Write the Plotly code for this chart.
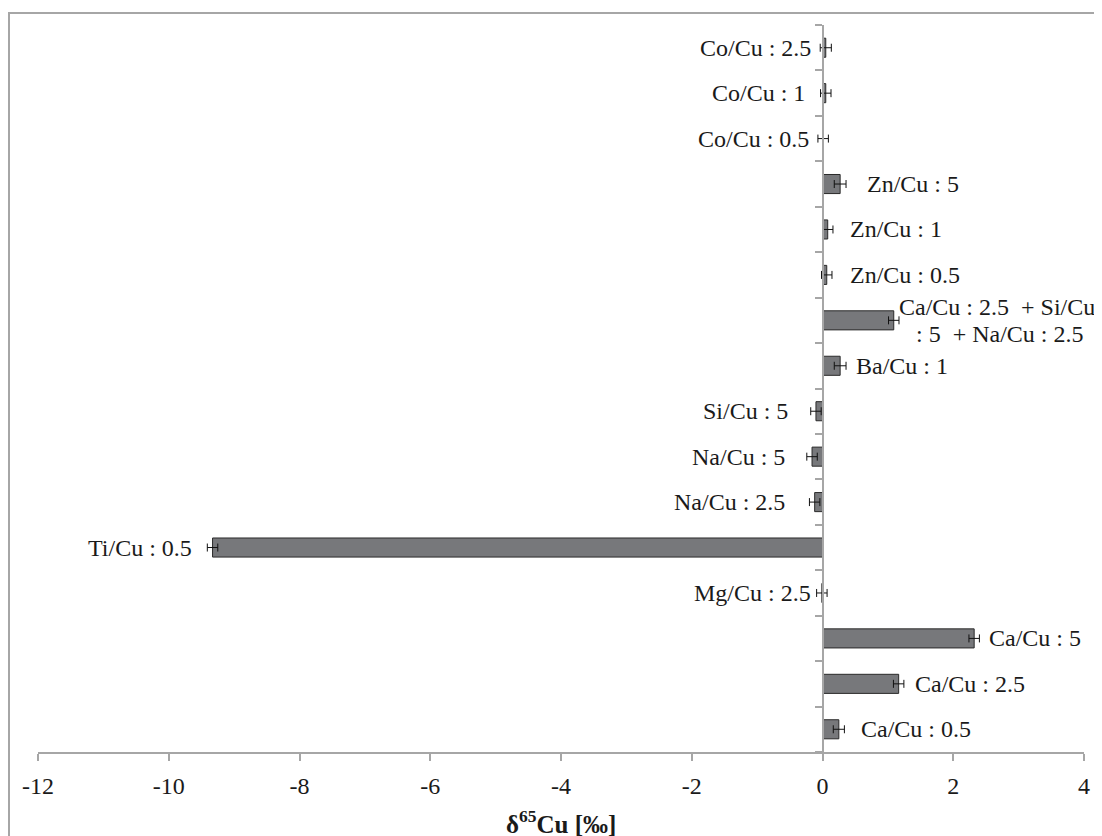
import plotly.graph_objects as go

# ---- data (bottom -> top) ----
labels = ["Ca/Cu : 0.5", "Ca/Cu : 2.5", "Ca/Cu : 5", "Mg/Cu : 2.5", "Ti/Cu : 0.5",
          "Na/Cu : 2.5", "Na/Cu : 5", "Si/Cu : 5", "Ba/Cu : 1",
          "Ca/Cu : 2.5  + Si/Cu<br> : 5  + Na/Cu : 2.5",
          "Zn/Cu : 0.5", "Zn/Cu : 1", "Zn/Cu : 5", "Co/Cu : 0.5", "Co/Cu : 1", "Co/Cu : 2.5"]
delta65cu = [0.25, 1.165, 2.32, -0.01, -9.33, -0.12, -0.16, -0.10, 0.27, 1.09,
             0.065, 0.08, 0.27, 0.01, 0.05, 0.05]
errors = [0.085, 0.08, 0.08, 0.08, 0.08, 0.08, 0.08, 0.08, 0.09, 0.08,
          0.08, 0.08, 0.09, 0.08, 0.08, 0.085]
x_tickvals = [-12, -10, -8, -6, -4, -2, 0, 2, 4]
x_ticktext = ["-12", "-10", "-8", "-6", "-4", "-2", "0", "2", "4"]

# ---- label placement (layout, not data) ----
label_side = [1, 1, 1, -1, -1, -1, -1, -1, 1, 1, 1, 1, 1, -1, -1, -1]
label_gap = [15, 9, 8, 4, 13, 22, 20, 21, 8, 0, 16, 15, 19, 12, 16, 10]

FONT = "Liberation Serif, Times New Roman, serif"
FS = 24
TXT = "#1a1a1a"
OFF = 8                      # browser body margin
W, H = 1102 - OFF, 836 - OFF
ML, MR, MT, MB = 38 - OFF, 18, 25 - OFF, 84
PW, PH = W - ML - MR, H - MT - MB
XMIN, XMAX = -12, 4

cats = [l.replace("<br>", " ") for l in labels]

fig = go.Figure()
fig.add_trace(go.Bar(
    y=cats, x=delta65cu, orientation="h",
    marker=dict(color="#77787b", line=dict(color="#2a2a2a", width=1)),
    error_x=dict(type="data", array=errors, color="#111111", thickness=1, width=4),
    showlegend=False, hoverinfo="skip",
))

annotations = []
LINE_H = 26.5
for c, lab, v, e, s, g in zip(cats, labels, delta65cu, errors, label_side, label_gap):
    if s > 0:
        ax = v + e if v > 0 else 0
    else:
        ax = v - e if v < 0 else 0
    lines = lab.split("<br>")
    if len(lines) == 1:
        annotations.append(dict(
            x=ax, y=c, xref="x", yref="y", text=lab, showarrow=False,
            xanchor="left" if s > 0 else "right", yanchor="middle",
            xshift=s * g, font=dict(family=FONT, size=FS, color=TXT),
        ))
    else:
        n = len(lines)
        block_half = 98  # half width of the widest line, px
        for i, ln in enumerate(lines):
            annotations.append(dict(
                x=ax, y=c, xref="x", yref="y", text=ln, showarrow=False,
                xanchor="center", yanchor="middle",
                xshift=s * (g + block_half),
                yshift=((n - 1) / 2 - i) * LINE_H,
                font=dict(family=FONT, size=FS, color=TXT),
            ))

annotations.append(dict(
    x=0.5, y=0, xref="paper", yref="paper", yshift=-70,
    text="<b>δ<sup>65</sup>Cu [‰]</b>", showarrow=False,
    xanchor="center", yanchor="middle",
    font=dict(family=FONT, size=25, color=TXT),
))

zero_pos = (0 - XMIN) / (XMAX - XMIN)

def px_to_paper_x(px):
    return (px - OFF - ML) / PW

def px_to_paper_y(py):
    return 1 - (py - OFF - MT) / PH

shapes = [dict(
    type="rect", xref="paper", yref="paper",
    x0=px_to_paper_x(9), x1=px_to_paper_x(1102 + 20),
    y0=px_to_paper_y(836 + 20), y1=px_to_paper_y(13),
    line=dict(color="#a6a6a6", width=2), fillcolor="rgba(0,0,0,0)", layer="below",
)]

fig.update_layout(
    width=W, height=H,
    margin=dict(l=ML, r=MR, t=MT, b=MB),
    paper_bgcolor="white", plot_bgcolor="white",
    bargap=0.58,
    annotations=annotations,
    shapes=shapes,
    font=dict(family=FONT, size=FS, color=TXT),
    xaxis=dict(
        range=[XMIN, XMAX], tickvals=x_tickvals, ticktext=x_ticktext,
        showline=True, linecolor="#a6a6a6", linewidth=1.5,
        ticks="outside", ticklen=7, tickcolor="#a6a6a6", tickwidth=1.5,
        ticklabelstandoff=4,
        showgrid=False, zeroline=False,
        tickfont=dict(family=FONT, size=FS, color=TXT),
    ),
    yaxis=dict(
        type="category", categoryorder="array", categoryarray=cats,
        range=[-0.5, len(cats) - 0.5],
        anchor="free", position=zero_pos,
        showline=True, linecolor="#a6a6a6", linewidth=1.5,
        ticks="outside", tickson="boundaries", ticklen=7,
        tickcolor="#a6a6a6", tickwidth=1.5,
        showticklabels=False, showgrid=False, zeroline=False,
    ),
)

fig.write_html("out.html")
